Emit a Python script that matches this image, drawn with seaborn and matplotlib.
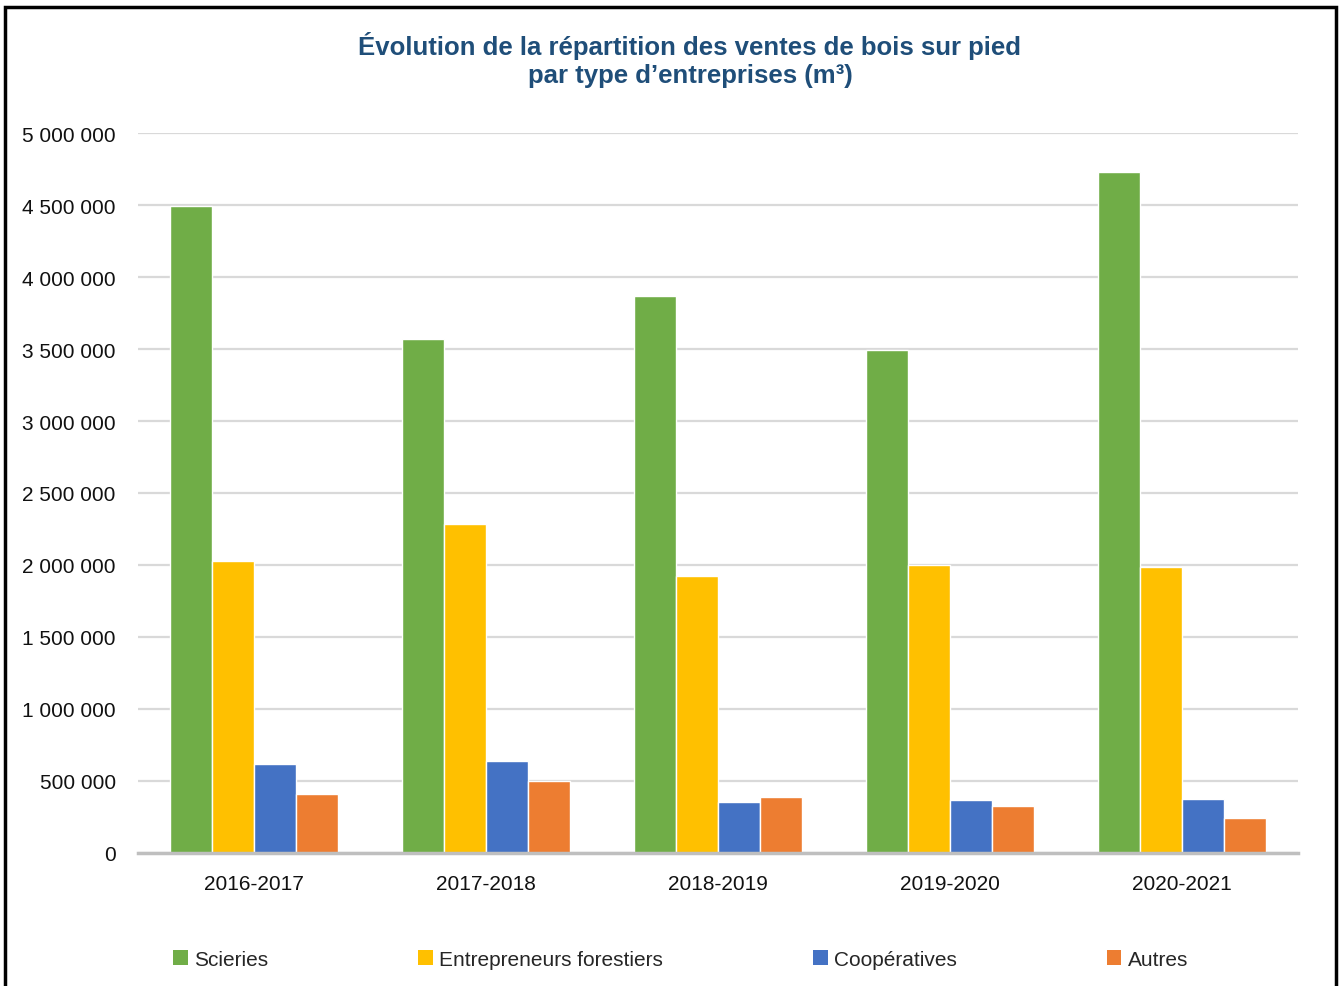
import matplotlib
matplotlib.use("Agg")
import matplotlib.pyplot as plt
import matplotlib.patches as mpatches
from matplotlib.ticker import FuncFormatter, MultipleLocator
from matplotlib.font_manager import fontManager
import seaborn as sns
import pandas as pd

# Volumes de bois sur pied vendus (m³) par saison et type d'entreprise
saisons = ["2016-2017", "2017-2018", "2018-2019", "2019-2020", "2020-2021"]
scieries = [4490000, 3570000, 3870000, 3490000, 4730000]
entrepreneurs = [2030000, 2285000, 1925000, 2000000, 1985000]
cooperatives = [620000, 640000, 355000, 370000, 375000]
autres = [410000, 500000, 390000, 325000, 245000]

types = ["Scieries", "Entrepreneurs forestiers", "Coopératives", "Autres"]
couleurs = ["#70AD47", "#FFC000", "#4472C4", "#ED7D31"]

df = pd.DataFrame({
    "saison": saisons * 4,
    "type": [t for t in types for _ in saisons],
    "volume": scieries + entrepreneurs + cooperatives + autres,
})

sns.set_theme(style="white")
names = {f.name for f in fontManager.ttflist}
narrow = "Liberation Sans Narrow" if "Liberation Sans Narrow" in names else "Liberation Sans"
plt.rcParams["font.family"] = [narrow, "DejaVu Sans"]

fig = plt.figure(figsize=(13.41, 9.87), dpi=100)
ax = fig.add_axes([0.1029, 0.1348, 0.8650, 0.7294])

sns.barplot(data=df, x="saison", y="volume", hue="type", hue_order=types,
            palette=couleurs, width=0.724, gap=0, saturation=1,
            errorbar=None, ax=ax, legend=False, zorder=3)

ax.set_xlim(-0.5, 4.5)
ax.set_ylim(0, 5000000)
ax.yaxis.set_major_locator(MultipleLocator(500000))
ax.yaxis.set_major_formatter(FuncFormatter(lambda v, p: f"{int(v):,}".replace(",", " ")))
ax.grid(axis="y", color="#D9D9D9", linewidth=1.6, zorder=0)
ax.set_axisbelow(True)
for s in ["top", "right", "left"]:
    ax.spines[s].set_visible(False)
ax.spines["bottom"].set_color("#BFBFBF")
ax.spines["bottom"].set_linewidth(2.5)
ax.spines["bottom"].set_zorder(4)
ax.tick_params(axis="both", length=0, labelsize=15, colors="#111111")
ax.tick_params(axis="x", pad=15)
ax.tick_params(axis="y", pad=16)
ax.set_xlabel("")
ax.set_ylabel("")

fig.text(0.5145, 0.968, "Évolution de la répartition des ventes de bois sur pied\npar type d’entreprises (m³)",
         ha="center", va="top", fontsize=18.5, fontweight="bold", color="#1F4E79",
         linespacing=1.22)

handles = [mpatches.Patch(facecolor=c, edgecolor="none", label=t) for t, c in zip(types, couleurs)]
fig.legend(handles=handles, loc="center", bbox_to_anchor=(0.5075, 0.027), ncol=4,
           frameon=False, fontsize=15, handlelength=0.7, handleheight=0.7,
           handletextpad=0.3, columnspacing=7.2)

# cadre du graphique
cadre = mpatches.Rectangle((0.0037, -0.02), 0.9925, 1.012, transform=fig.transFigure,
                           fill=False, edgecolor="black", linewidth=2.5)
fig.patches.append(cadre)

fig.savefig("out.png", dpi=100, facecolor="white")
